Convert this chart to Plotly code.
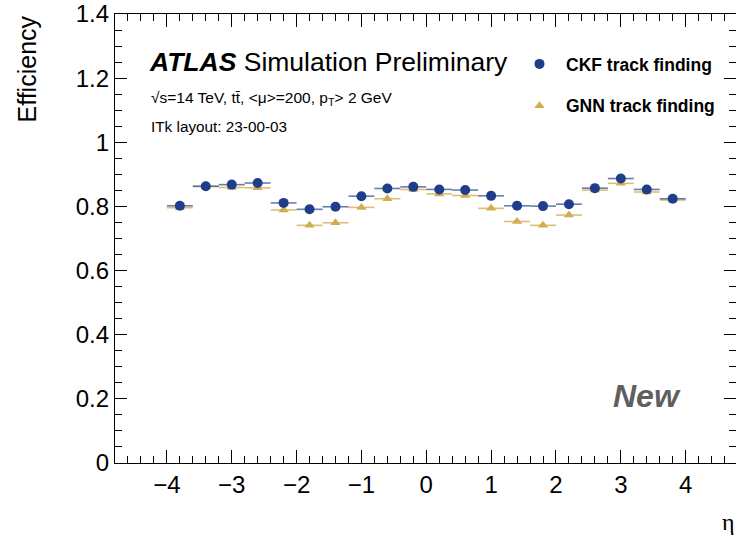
import plotly.graph_objects as go

# ---- data ----
eta_centers = [-3.8, -3.4, -3.0, -2.6, -2.2, -1.8, -1.4, -1.0, -0.6, -0.2,
               0.2, 0.6, 1.0, 1.4, 1.8, 2.2, 2.6, 3.0, 3.4, 3.8]
eta_halfwidth = [0.2] * 20
ckf_eff = [0.802, 0.863, 0.868, 0.873, 0.811, 0.791, 0.799, 0.832, 0.856, 0.861,
           0.853, 0.851, 0.833, 0.802, 0.801, 0.807, 0.857, 0.887, 0.853, 0.824]
gnn_eff = [0.796, 0.862, 0.859, 0.858, 0.789, 0.741, 0.749, 0.797, 0.824, 0.853,
           0.839, 0.834, 0.794, 0.753, 0.741, 0.773, 0.851, 0.872, 0.845, 0.820]

series_names = ["CKF track finding", "GNN track finding"]
x_ticks = [-4, -3, -2, -1, 0, 1, 2, 3, 4]
y_ticks = [0, 0.2, 0.4, 0.6, 0.8, 1, 1.2, 1.4]

# ---- geometry ----
W, H = 736, 537
L, R, T, B = 115, 0, 14, 74
PW, PH = W - L - R, H - T - B
px_per_unit = 64.85
xmin = -4.8
xmax = xmin + PW / px_per_unit

def xp(px):
    return (px - L) / PW

def yp(py):
    return (H - B - py) / PH

FONT = "Liberation Sans, Arial, Helvetica, sans-serif"
NAVY = "#1f3d8a"
GOLD = "#d2ad50"

fig = go.Figure()
fig.add_trace(go.Scatter(
    x=eta_centers, y=gnn_eff, mode="markers", name="<b>" + series_names[1] + "</b>",
    legendgroup="b", legendrank=2,
    marker=dict(symbol="triangle-up", size=9, color=GOLD),
    error_x=dict(type="data", array=eta_halfwidth, width=0, thickness=1.6,
                 color="rgba(215,180,90,0.85)"),
))
fig.add_trace(go.Scatter(
    x=eta_centers, y=ckf_eff, mode="markers", name="<b>" + series_names[0] + "</b>",
    legendgroup="a", legendrank=1,
    marker=dict(symbol="circle", size=10, color=NAVY),
    error_x=dict(type="data", array=eta_halfwidth, width=0, thickness=1.6,
                 color="rgba(55,80,145,0.75)"),
))

axis_common = dict(
    showline=True, linecolor="black", linewidth=1.3, mirror="allticks",
    ticks="inside", tickcolor="black", tickwidth=1,
    showgrid=False, zeroline=False,
    tickfont=dict(family=FONT, size=24, color="black"),
)

fig.update_xaxes(
    range=[xmin, xmax], tickmode="array", tickvals=x_ticks,
    ticktext=[("\u2212" + str(-v)) if v < 0 else str(v) for v in x_ticks],
    ticklen=13,
    minor=dict(dtick=0.2, tick0=0, ticks="inside", ticklen=7, tickcolor="black", tickwidth=1),
    **axis_common,
)
fig.update_yaxes(
    range=[0, 1.4], tickmode="array", tickvals=y_ticks,
    ticktext=[("%g" % v) for v in y_ticks],
    ticklen=12,
    minor=dict(dtick=0.05, tick0=0, ticks="inside", ticklen=7, tickcolor="black", tickwidth=1),
    **axis_common,
)

annotations = [
    dict(x=xp(147), y=yp(62), xanchor="left", yanchor="middle",
         text="<b><i>ATLAS</i></b> Simulation Preliminary",
         font=dict(family=FONT, size=26.5, color="black")),
    dict(x=xp(149), y=yp(99), xanchor="left", yanchor="middle",
         text="\u221As=14 TeV, tt\u0304, <\u03bc>=200, p<sub>T</sub>> 2 GeV",
         font=dict(family=FONT, size=15.5, color="black")),
    dict(x=xp(149), y=yp(126), xanchor="left", yanchor="middle",
         text="ITk layout: 23-00-03",
         font=dict(family=FONT, size=15.3, color="black")),
    dict(x=xp(611), y=yp(396), xanchor="left", yanchor="middle",
         text="<b><i>New</i></b>",
         font=dict(family=FONT, size=32, color="#5f5f5f")),
    dict(x=xp(26), y=yp(14), xanchor="center", yanchor="top", textangle=-90,
         text="Efficiency",
         font=dict(family=FONT, size=25, color="black")),
    dict(x=xp(728), y=yp(522), xanchor="center", yanchor="middle",
         text="\u03b7",
         font=dict(family="Liberation Serif, serif", size=24, color="black")),
]
for a in annotations:
    a.update(xref="paper", yref="paper", showarrow=False)

fig.update_layout(
    width=W, height=H,
    margin=dict(l=L, r=R, t=T, b=B, pad=0),
    paper_bgcolor="white", plot_bgcolor="white",
    annotations=annotations,
    showlegend=True,
    legend=dict(
        x=xp(513), y=yp(46), xanchor="left", yanchor="top",
        bgcolor="rgba(0,0,0,0)", borderwidth=0,
        font=dict(family=FONT, size=17.5, color="black"),
        traceorder="grouped", tracegroupgap=16,
        itemwidth=43,
    ),
)

fig.write_html("out.html")
